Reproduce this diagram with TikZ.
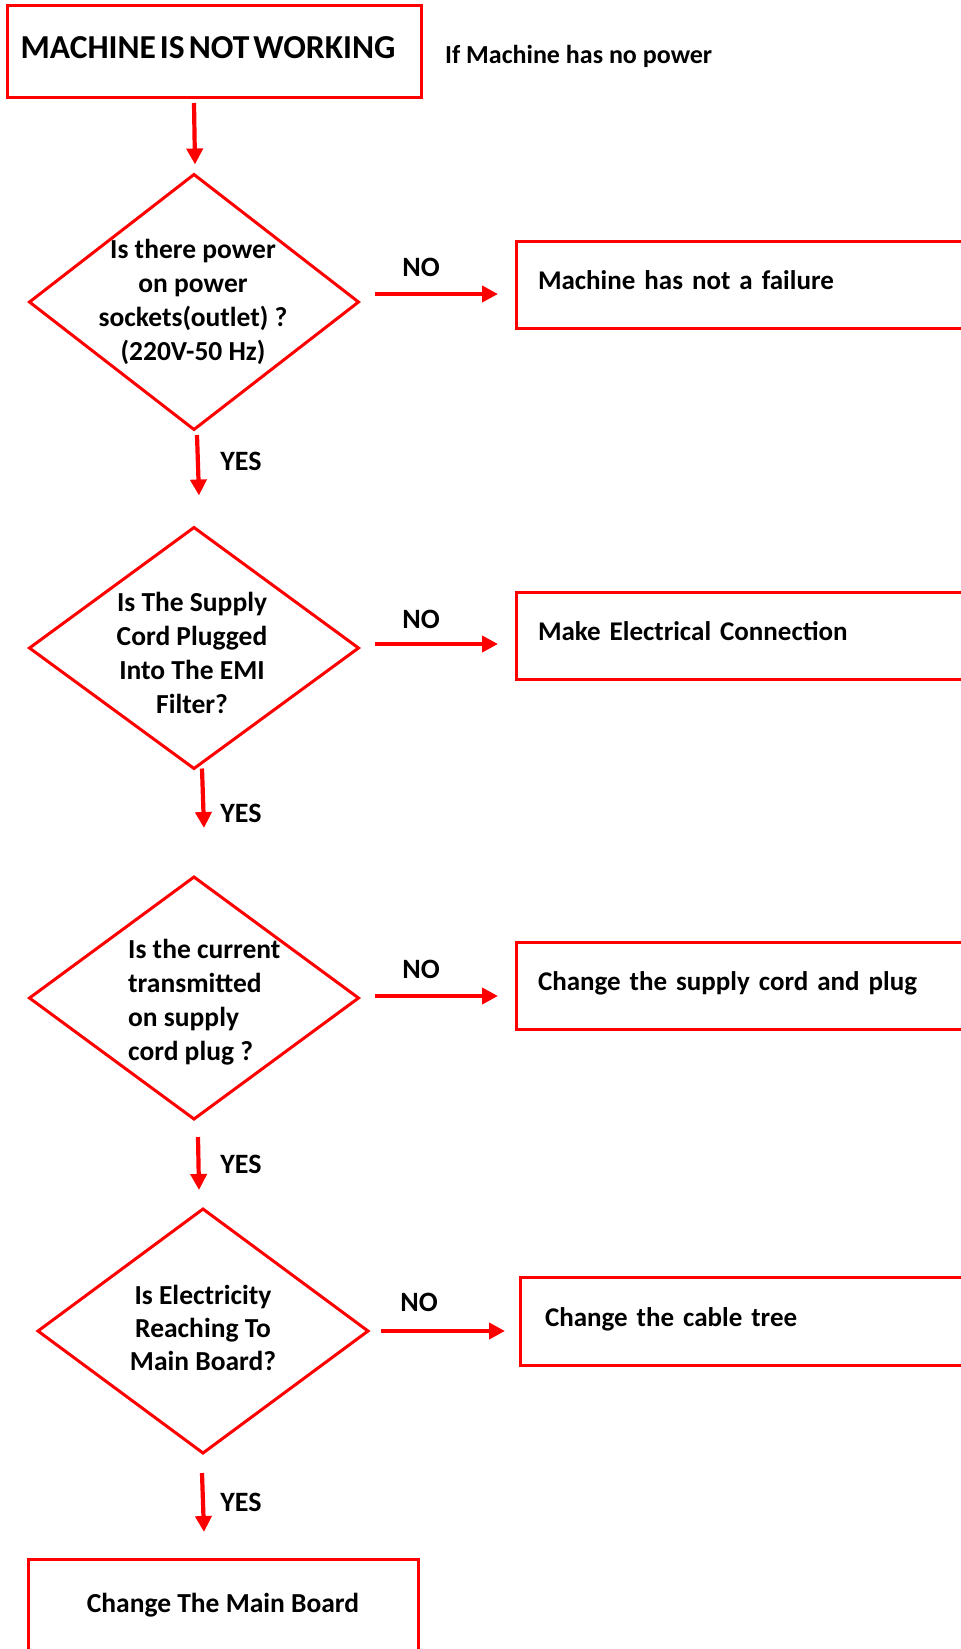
\documentclass[tikz,border=0pt]{standalone}
\usepackage{fontspec}
\setmainfont{Carlito}
\usetikzlibrary{shapes.geometric,arrows.meta}
\definecolor{lred}{RGB}{255,0,0}
\newcommand\mytightspace{\spaceskip=4pt\relax}
\begin{document}
\begin{tikzpicture}[x=1pt,y=-1pt,
  box/.style={draw=lred, line width=3pt, rectangle, inner sep=0pt, outer sep=0pt,
    font=\fontsize{27}{30}\selectfont\bfseries, text height=17pt, text depth=7pt},
  rbox/.style={box, minimum height=87pt, text width=440pt, inner xsep=22pt, align=left},
  dia/.style={draw=lred, line width=3pt, diamond, inner sep=0pt, outer sep=0pt},
  qtext/.style={font=\fontsize{27.5}{33.7}\selectfont\bfseries, inner sep=0pt, anchor=base},
  lab/.style={font=\fontsize{28}{30}\selectfont\bfseries, inner sep=0pt},
  arr/.style={draw=lred, line width=4.2pt, -{Triangle[length=16pt,width=16pt]}},
]
\useasboundingbox (0,0) rectangle (961,1649);
\clip (0,0) rectangle (961,1649);

% boxes
\node[box, minimum width=414pt, minimum height=92pt,
      font=\fontsize{33.5}{40}\selectfont\bfseries\mytightspace,
      text height=24pt, text depth=10pt] (start) at (214,51) {\hspace*{-12pt}MACHINE IS NOT WORKING};
\node[font=\fontsize{26}{30}\selectfont\bfseries, inner sep=0pt, anchor=base west] (note) at (445,63) {If Machine has no power};

\node[rbox] (r1) at (758,284.5) {Machine has not a failure};
\node[rbox] (r2) at (758,635.5) {Make Electrical Connection};
\node[rbox] (r3) at (758,985.5) {Change the supply cord and plug};
\node[rbox, minimum height=88pt, text width=430pt, inner xsep=25pt] (r4) at (760,1321) {Change the cable tree};
\node[box, minimum width=390pt, minimum height=96pt, align=center, font=\fontsize{27.5}{30}\selectfont\bfseries] (end) at (223,1607) {Change The Main Board};

% diamonds
\node[dia, minimum width=329pt, minimum height=255pt] (d1) at (194,302) {};
\node[dia, minimum width=329pt, minimum height=241pt] (d2) at (194,648) {};
\node[dia, minimum width=329pt, minimum height=242pt] (d3) at (194,998) {};
\node[dia, minimum width=330pt, minimum height=244pt] (d4) at (203,1331) {};

\node[qtext, align=center] (t1) at (193,360) {Is there power\\on power\\sockets(outlet) ?\\(220V-50 Hz)};
\node[qtext, align=center] (t2) at (192,713) {Is The Supply\\Cord Plugged\\Into The EMI\\Filter?};
\node[qtext, align=left, anchor=base west] (t3) at (128,1060) {Is the current\\transmitted\\on supply\\cord plug ?};
\node[qtext, align=center, font=\fontsize{27.5}{33}\selectfont\bfseries] (t4) at (203,1370) {Is Electricity\\Reaching To\\Main Board?};

% vertical arrows
\draw[arr] ([yshift=-6pt]start.south -| d1.north) -- ([shift={(1,-10)}]d1.north);
\draw[arr] ([shift={(3,5.5)}]d1.south) -- ([shift={(5,-32)}]d2.north);
\draw[arr] ([shift={(8,0)}]d2.south) -- ([shift={(10,-49)}]d3.north);
\draw[arr] ([shift={(4,18)}]d3.south) -- ([shift={(-4,-19)}]d4.north);
\draw[arr] ([shift={(-1,20)}]d4.south) -- ([shift={(-19,-27)}]end.north);

\node[lab] (y1) at ([shift={(47,32)}]d1.south) {YES};
\node[lab] (y2) at ([shift={(47,44.5)}]d2.south) {YES};
\node[lab] (y3) at ([shift={(47,45)}]d3.south) {YES};
\node[lab] (y4) at ([shift={(38,49)}]d4.south) {YES};

% horizontal arrows
\coordinate (n1s) at ([shift={(16.5,-8)}]d1.east);
\coordinate (n1e) at ([xshift=-18pt]r1.west);
\coordinate (n2s) at ([shift={(16.5,-4)}]d2.east);
\coordinate (n2e) at ([xshift=-18pt]r2.west);
\coordinate (n3s) at ([shift={(16.5,-2)}]d3.east);
\coordinate (n3e) at ([xshift=-18pt]r3.west);
\coordinate (n4s) at ([shift={(13,0)}]d4.east);
\coordinate (n4e) at ([xshift=-15pt]r4.west);
\draw[arr] (n1s) -- (n1e |- n1s);
\draw[arr] (n2s) -- (n2e |- n2s);
\draw[arr] (n3s) -- (n3e |- n3s);
\draw[arr] (n4s) -- (n4e |- n4s);

\node[lab] (no1) at ([shift={(46,-27)}]n1s) {NO};
\node[lab] (no2) at ([shift={(46,-25)}]n2s) {NO};
\node[lab] (no3) at ([shift={(46,-27)}]n3s) {NO};
\node[lab] (no4) at ([shift={(38,-29)}]n4s) {NO};
\end{tikzpicture}
\end{document}
